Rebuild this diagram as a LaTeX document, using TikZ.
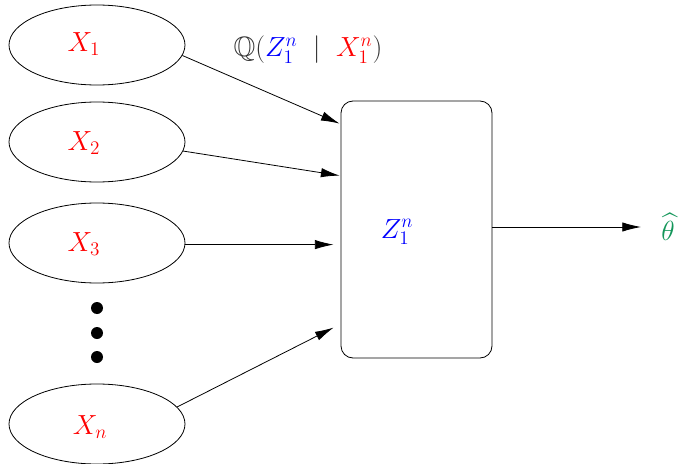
\documentclass[tikz,border=0pt]{standalone}
\usepackage{amssymb}
\usetikzlibrary{arrows.meta,shapes.geometric,calc}
\definecolor{thgreen}{RGB}{20,150,90}
\begin{document}
\begin{tikzpicture}[x=0.75pt,y=-0.75pt,
  every node/.style={font=\fontsize{21}{25}\selectfont},
  xell/.style={draw,ellipse,inner sep=0pt,minimum width=132pt,minimum height=60pt,line width=0.6pt},
  arr/.style={-{Latex[length=14pt,width=7pt]},line width=0.6pt},
  dotc/.style={fill=black,circle,inner sep=0pt,minimum size=9pt}]
\useasboundingbox (0,0) rectangle (679,464);
\node[xell] (x1) at (97,45) {};
\node[xell] (x2) at (97,142) {};
\node[xell] (x3) at (97,243) {};
\node[xell] (xn) at (97,424) {};
\node[text=red] (l1) at (84,44) {$X_1$};
\node[text=red] (l2) at (84,143) {$X_2$};
\node[text=red] (l3) at (84,244) {$X_3$};
\node[text=red] (ln) at (90,427) {$X_n$};
\node[dotc] (d1) at (97,308) {};
\node[dotc] (d2) at (97,333) {};
\node[dotc] (d3) at (97,357) {};
\node[draw,rectangle,rounded corners=9pt,minimum width=113.25pt,minimum height=192.75pt,line width=0.6pt] (box) at (416.5,229.5) {};
\node[text=blue] (z) at (397,232) {$Z_1^n$};
\node[text=black!80] (q) at (308,50) {$\mathbb{Q}(\textcolor{blue}{Z_1^n}\;\mid\;\textcolor{red}{X_1^n})$};
\node (th) at (668,227) {$\color{thgreen}\widehat{\theta}$};
\coordinate (a1) at ($(box.north west)+(-1,23)$);
\coordinate (a2) at ($(box.north west)+(-1,75)$);
\coordinate (a3) at ($(box.north west)+(-7,144)$);
\coordinate (a4) at ($(box.north west)+(-7,227)$);
\coordinate (ao) at (641,227);
\draw[arr] (x1.-7) -- (a1);
\draw[arr] (x2.-6) -- (a2);
\draw[arr] (x3.east |- a3) -- (a3);
\draw[arr] (xn.12) -- (a4);
\draw[arr] (box.east |- ao) -- (ao);
\end{tikzpicture}
\end{document}
